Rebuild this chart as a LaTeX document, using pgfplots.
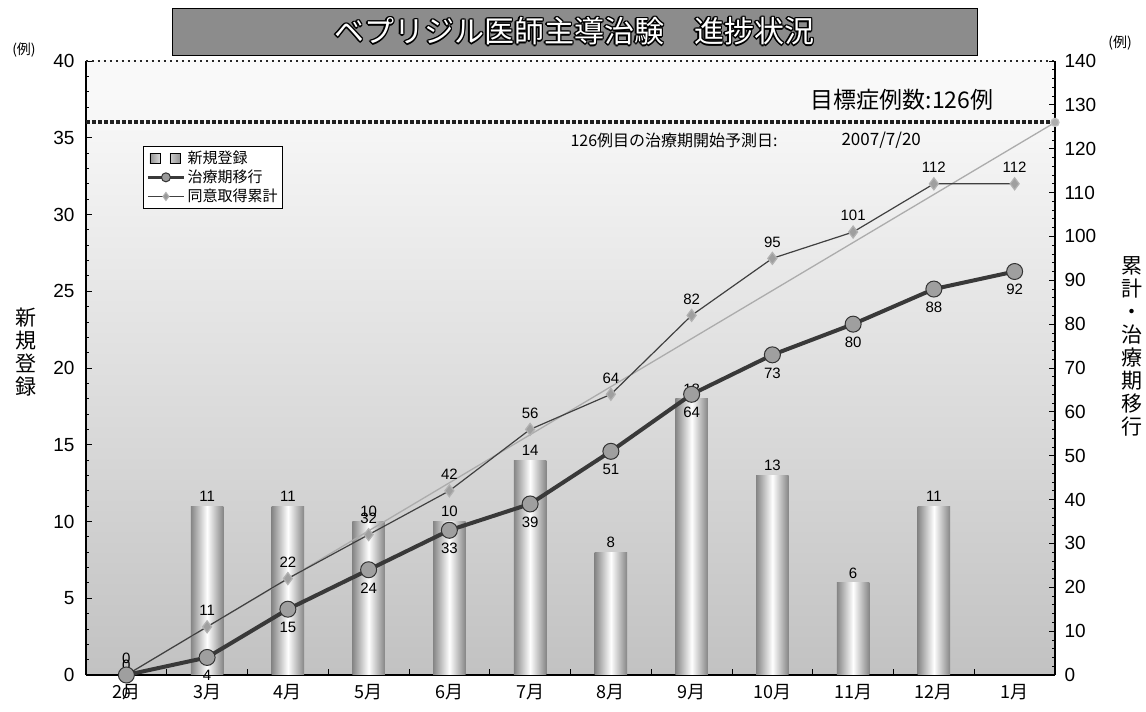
\documentclass[border=0pt]{standalone}
\usepackage{fontspec}
\setmainfont{Liberation Sans}
\newfontfamily\jp{Noto Sans CJK JP}
\usepackage{pgfplots}
\pgfplotsset{compat=1.18}
\pgfplotsset{/pgf/number format/assume math mode=true}
\pgfdeclareverticalshading{chartbg}{100bp}{color(0bp)=(gray!66); color(25bp)=(gray!48); color(50bp)=(gray!25); color(72bp)=(gray!5); color(100bp)=(white)}
\pgfplotsset{barsty/.style={forget plot, ybar, bar width=0.4, bar shift=0pt, draw=none,
  left color=gray!95, right color=gray!95, middle color=white,
  nodes near coords, every node near coord/.append style={font=\fontsize{15}{17}\selectfont, text=black, yshift=1pt}}}
\begin{document}
\begin{tikzpicture}[x=1pt,y=1pt]
\useasboundingbox (-86,-37) rectangle (1060,675);
\begin{axis}[
  at={(0,0)}, anchor=south west,
  scale only axis, width=969pt, height=614pt,
  xmin=-0.5, xmax=11.5, ymin=0, ymax=40,
  axis x line*=bottom, axis y line*=left,
  axis line style={-, black, line width=1.2pt},
  axis background/.style={shading=chartbg},
  xtick={0.5,1.5,...,10.5},
  xticklabels={,,,,,,,,,,},
  extra x ticks={0,1,2,3,4,5,6,7,8,9,10,11},
  extra x tick labels={2月,3月,4月,5月,6月,7月,8月,9月,10月,11月,12月,1月},
  extra x tick style={major tick length=0pt},
  xticklabel style={font=\jp\fontsize{18}{20}\selectfont, yshift=-6pt},
  ytick={0,5,...,40}, minor y tick num=4,
  yticklabel style={font=\fontsize{19}{21}\selectfont, xshift=-8pt},
  tick align=inside, major tick length=6pt, minor tick length=3pt,
  tick style={black, line width=0.8pt},
  clip=false,
  legend style={at={(0.0588,0.8616)}, anchor=north west, draw=black, fill=white,
    font=\jp\fontsize{15}{17}\selectfont, inner sep=3pt, row sep=1pt, legend cell align=left},
  legend image code/.code={\draw[mark repeat=2,mark phase=2,#1] plot coordinates {(0pt,0pt) (18pt,0pt) (36pt,0pt)};},
]
\addplot[barsty] coordinates {(0,0)};
\addplot[barsty] coordinates {(1,11)};
\addplot[barsty] coordinates {(2,11)};
\addplot[barsty] coordinates {(3,10)};
\addplot[barsty] coordinates {(4,10)};
\addplot[barsty] coordinates {(5,14)};
\addplot[barsty] coordinates {(6,8)};
\addplot[barsty] coordinates {(7,18)};
\addplot[barsty] coordinates {(8,13)};
\addplot[barsty] coordinates {(9,6)};
\addplot[barsty] coordinates {(10,11)};
\addplot[forget plot, line width=4pt, gray!25!black, dash pattern=on 4pt off 2pt] coordinates {(-0.5,36) (11.5,36)};
\draw[line width=1.5pt, gray!30!black, dash pattern=on 2pt off 4pt] (rel axis cs:0,1) -- (rel axis cs:1,1);
\addlegendimage{legend image code/.code={\fill[left color=gray!85,right color=gray!30] (2pt,-5pt) rectangle (12pt,5pt); \fill[left color=gray!40,right color=gray!85] (22pt,-5pt) rectangle (32pt,5pt);}}
\addlegendentry{新規登録}
\addlegendimage{line width=3.5pt, gray!45!black, mark=*, mark size=4.5pt, mark options={fill=gray!80, draw=gray!40!black, line width=1pt}}
\addlegendentry{治療期移行}
\addlegendimage{line width=1pt, gray!50!black, mark=diamond*, mark size=4pt, mark options={fill=gray!80, draw=gray!60}}
\addlegendentry{同意取得累計}
\end{axis}
\begin{axis}[
  at={(0,0)}, anchor=south west,
  scale only axis, width=969pt, height=614pt,
  xmin=-0.5, xmax=11.5, ymin=0, ymax=140,
  axis x line=none, axis y line*=right,
  axis line style={-, black, line width=1.2pt},
  ytick={0,10,...,140}, minor y tick num=4,
  yticklabel style={font=\fontsize{19}{21}\selectfont, xshift=6pt},
  tick align=inside, major tick length=6pt, minor tick length=3pt,
  tick style={black, line width=0.8pt},
  clip=false,
]
\addplot[gray!65, line width=1.3pt, mark=*, mark indices={2}, mark size=4pt, mark options={fill=gray!65, draw=gray!50}]
  coordinates {(0,0) (11.5,126)};
\addplot[gray!50!black, line width=1.2pt, mark=diamond*, mark size=6pt, mark options={fill=gray!75, draw=gray!60},
  nodes near coords, every node near coord/.append style={font=\fontsize{15}{17}\selectfont, text=black, anchor=south, yshift=7pt}]
  coordinates {(0,0) (1,11) (2,22) (3,32) (4,42) (5,56) (6,64) (7,82) (8,95) (9,101) (10,112) (11,112)};
\addplot[gray!45!black, line width=4pt, mark=*, mark size=8pt, mark options={fill=gray!75, draw=gray!40!black, line width=1pt},
  nodes near coords, every node near coord/.append style={font=\fontsize{15}{17}\selectfont, text=black, anchor=north, yshift=-9pt}]
  coordinates {(0,0) (1,4) (2,15) (3,24) (4,33) (5,39) (6,51) (7,64) (8,73) (9,80) (10,88) (11,92)};
\end{axis}
% title box
\fill[gray!90, draw=black, line width=0.8pt] (86,620) rectangle (891,667);
\foreach \dx/\dy in {-1.2/0,1.2/0,0/-1.2,0/1.2,-1/-1,1/1,-1/1,1/-1}{
  \node[text=black, font=\jp\fontsize{30}{32}\selectfont] at (488+\dx,643.5+\dy) {ベプリジル医師主導治験　進捗状況};
}
\node[text=white, font=\jp\fontsize{30}{32}\selectfont] at (488,643.5) {ベプリジル医師主導治験　進捗状況};
% unit labels
\node[font=\jp\fontsize{14}{16}\selectfont] at (-62,625) {(例)};
\node[font=\jp\fontsize{14}{16}\selectfont] at (1034,632) {(例)};
% axis titles
\node[font=\jp\fontsize{21}{23}\selectfont, align=center] at (-60,323) {新\\規\\登\\録};
\node[font=\jp\fontsize{21}{23}\selectfont, align=center] at (1046,329) {累\\計\\・\\治\\療\\期\\移\\行};
% annotations
\node[font=\jp\fontsize{23}{25}\selectfont, anchor=east] at (911,575) {目標症例数:126例};
\node[font=\jp\fontsize{16}{18}\selectfont, anchor=west] at (481,535) {126例目の治療期開始予測日:};
\node[font=\jp\fontsize{17}{19}\selectfont, anchor=west] at (752,535) {2007/7/20};
\end{tikzpicture}
\end{document}
